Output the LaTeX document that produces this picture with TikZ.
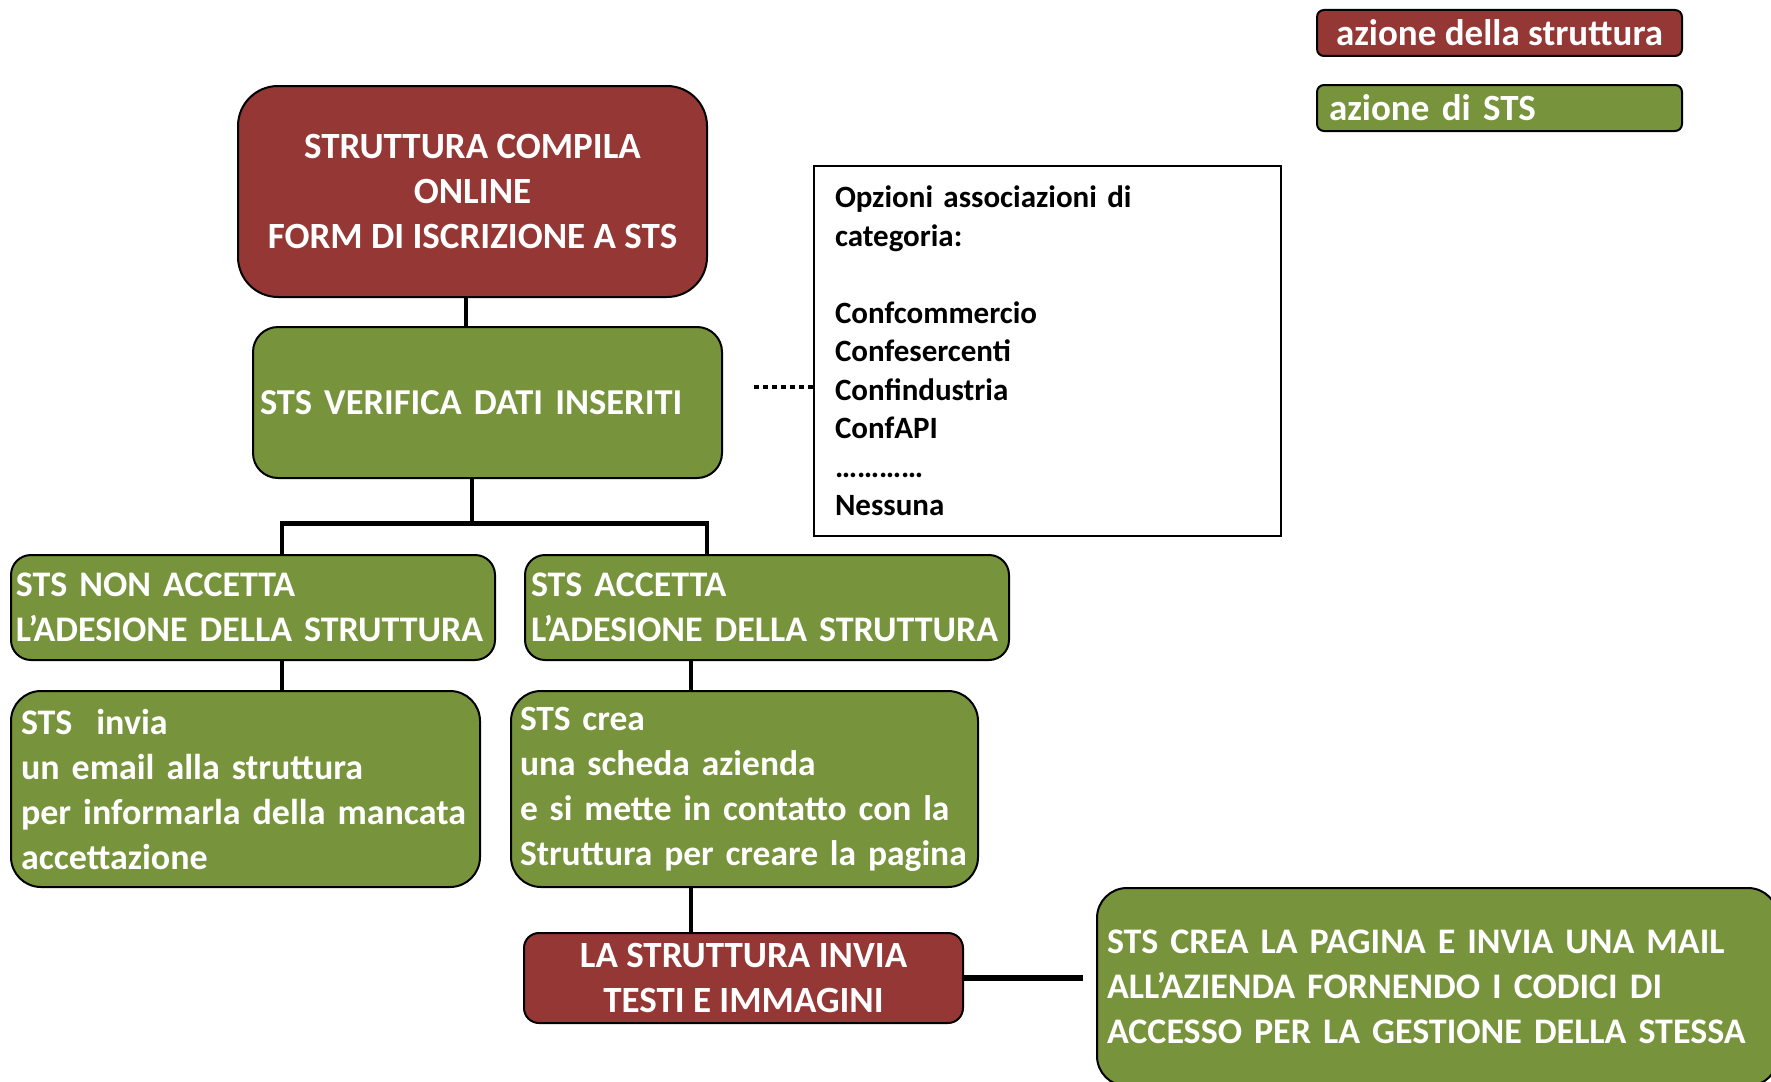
\documentclass[tikz,border=0pt]{standalone}
\usepackage{fontspec}
\setmainfont{Carlito}
\definecolor{redbox}{HTML}{953735}
\definecolor{greenbox}{HTML}{77933C}
\begin{document}
\begin{tikzpicture}[x=1pt,y=-1pt,
  box/.style={draw=black, line width=2pt, text=white, inner ysep=0pt, outer sep=0pt},
  redb/.style={box, fill=redbox},
  greenb/.style={box, fill=greenbox},
  conn/.style={line width=4pt, draw=black},
  f37/.style={font=\fontsize{37}{45}\selectfont\bfseries},
  c36/.style={font=\fontsize{36}{45}\selectfont\bfseries}]
\clip (0,0) rectangle (1771,1081);
\fill[white] (0,0) rectangle (1771,1081);

% legend
\node[redb, rounded corners=7pt, minimum width=365pt, minimum height=46pt, inner xsep=0pt,
  font=\fontsize{37}{44}\selectfont\bfseries] (leg1) at (1499.5,33) {azione della struttura};
\node[greenb, rounded corners=7pt, minimum width=365pt, minimum height=46pt, inner xsep=12pt,
  text width=341pt, align=left, font=\fontsize{37}{44}\selectfont\bfseries] (leg2) at (1499.5,108) {azione di STS};

% top
\node[redb, rounded corners=40pt, minimum width=469pt, minimum height=211pt, inner xsep=0pt,
  align=center, f37] (struct) at (472.5,191.5) {STRUTTURA COMPILA\\ONLINE\\FORM DI ISCRIZIONE A STS};
\node[greenb, rounded corners=25pt, minimum width=469pt, minimum height=151pt, inner xsep=7pt,
  text width=455pt, align=left, font=\fontsize{36.5}{44}\selectfont\bfseries] (verif) at (487.5,402.5) {STS VERIFICA DATI INSERITI};

% options
\node[draw=black, line width=2.5pt, fill=white, minimum width=467pt, minimum height=370pt,
  inner xsep=21pt, inner ysep=0pt, text width=425pt, align=left,
  font=\fontsize{31}{38.5}\selectfont\bfseries] (opt) at (1047.5,351)
  {Opzioni associazioni di\\categoria:\\[38.5pt]Confcommercio\\Confesercenti\\Confindustria\\ConfAPI\\…………\\Nessuna};
\coordinate (dotl) at (754,387);
\draw[line width=4.5pt, dash pattern=on 5pt off 4pt] (dotl) -- ([yshift=-36pt]opt.west);

% second level
\node[greenb, rounded corners=20pt, minimum width=484pt, minimum height=105pt, inner xsep=5pt,
  text width=474pt, align=left, c36] (no) at (253,607.5) {STS NON ACCETTA\\\mbox{L’ADESIONE DELLA STRUTTURA}};
\node[greenb, rounded corners=20pt, minimum width=484pt, minimum height=105pt, inner xsep=6pt,
  text width=472pt, align=left, c36] (yes) at (767,607.5) {STS ACCETTA\\\mbox{L’ADESIONE DELLA STRUTTURA}};

\node[greenb, rounded corners=30pt, minimum width=469pt, minimum height=196pt, inner xsep=10pt,
  text width=449pt, align=left, c36] (invia) at (245.5,789) {STS\ \ invia\\un email alla struttura\\\mbox{per informarla della mancata}\\accettazione};
\node[greenb, rounded corners=30pt, minimum width=467pt, minimum height=196pt, inner xsep=9pt,
  text width=449pt, align=left, font=\fontsize{35.5}{45}\selectfont\bfseries] (crea) at (744.5,789) {STS crea\\una scheda azienda\\\mbox{e si mette in contatto con la}\\\mbox{Struttura per creare la pagina}};

\node[redb, rounded corners=15pt, minimum width=439pt, minimum height=90pt, inner xsep=0pt,
  align=center, f37] (send) at (743.5,978) {LA STRUTTURA INVIA\\TESTI E IMMAGINI};

\node[greenb, rounded corners=30pt, minimum width=681pt, minimum height=198pt, inner xsep=10pt,
  text width=661pt, align=left, c36] (final) at (1437.5,987) {STS CREA LA PAGINA E INVIA UNA MAIL\\ALL’AZIENDA FORNENDO I CODICI DI\\\mbox{ACCESSO PER LA GESTIONE DELLA STESSA}};

% connectors
\draw[conn] ([xshift=-7pt]struct.south) -- ([xshift=-7pt]struct.south |- verif.north);
\coordinate (split) at (472,523);
\coordinate (bl) at (282,523);
\coordinate (br) at (707,523);
\draw[conn] (verif.south -| split) -- (split);
\draw[line width=5pt] ([xshift=-2pt]bl) -- ([xshift=2pt]br);
\draw[conn] (bl) -- (bl |- no.north);
\draw[conn] (br) -- (br |- yes.north);
\draw[conn] (no.south -| bl) -- (bl |- invia.north);
\coordinate (cr) at (691,660);
\draw[conn] (cr) -- (cr |- crea.north);
\draw[conn] (crea.south -| cr) -- (cr |- send.north);
\draw[line width=6pt] (send.east) -- ([xshift=-14pt]final.west |- send.east);
\end{tikzpicture}
\end{document}
